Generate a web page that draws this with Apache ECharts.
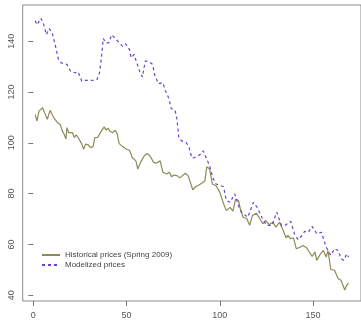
<!DOCTYPE html>
<html>
<head>
<meta charset="utf-8">
<script src="https://cdn.jsdelivr.net/npm/echarts@6/dist/echarts.min.js"></script>
<style>html,body{margin:0;padding:0;background:#fff}#c{width:361px;height:320px}</style>
</head>
<body>
<div id="c"></div>
<script>
var seriesNames = ["Historical prices (Spring 2009)", "Modelized prices"];
var xTicks = [0, 50, 100, 150];
var yTicks = [40, 60, 80, 100, 120, 140];

var histX = [1,2,3,5,6,7.5,9,10.5,11.5,13,14.5,15.5,16.5,17.5,18,19,20,21,22,23,24,25,26,27,28,29.5,30.5,32,33,34.5,35.5,36.5,38,39,40,41,42.5,44,45,46,47.5,48.5,50,51.5,52.5,53,54,55,56,57.5,59.5,61,62.5,64.5,66,68,69.5,71.5,73,74,75.5,77,78.5,81.5,83,85.5,87,89,90.5,92,93,94.5,96,98,100,102,103.5,105.5,107,108.5,110,111,112.5,114.5,116,117.5,119.5,121,123,124.5,126.5,128.5,130,132,134,135.5,136.5,138,139.5,141,143,144.5,146.5,148,149.5,151,152,154,155.5,157,158,159.5,161.5,163.5,165,167,168,169];
var histY = [111.1,108.6,112.5,113.8,111.9,109.3,112.8,110.6,109.3,108,107.1,104.7,103.4,101.5,106,104,103.4,104,102.1,103.1,102.1,101.8,99.5,97.5,99.5,99.2,98.2,98.4,102.1,102.1,101.8,104.7,106.3,105,105.8,104.7,104,105,103.4,99.7,98.8,99.2,97.5,97.1,95.3,94.2,94.9,92.9,89.7,92.3,94.9,95.8,94.9,92.3,92,92.9,88.4,87.7,88.4,86.7,87.3,87.1,86.2,88,87.1,81.5,82.7,83.5,84.2,85.1,90.6,89.7,83.8,83.1,80.5,76,73.3,74.6,73.1,77.9,77.3,74,70.7,70.1,67.5,71.4,72.3,70.7,68.1,69.4,67.8,68.7,66.8,68.7,65.5,62.6,63.5,62.2,62.6,58.3,58.9,59.6,58.7,57,55.3,57,53.7,56.3,57.6,55,57.6,50.1,49.8,46.5,45.9,42,43.9,44.8];

var modX = [1,2,4,5.5,7,8.5,10,11.5,13.5,15,18,20,22.5,24,26,27.5,30.5,34,35.5,36.5,37.5,39,40.5,42,43,44.5,46,48,49.5,51.5,52.5,54,55.5,57,58.5,60,61.5,64,65,67,69.5,70.5,72.5,74,76,77,77.5,78,79.5,82,83,83.5,84.5,85,86.5,88.5,90,91,93,94.5,96.5,98,102,103.5,105.5,108,110,111.5,115,118,120,122.5,125,128,130.5,133,135,138,140,142,144,145.5,147.5,149.5,152,154.5,155.5,157,159.5,161.5,163.5,165,166.5,168,169];
var modY = [148.1,146.5,149.1,146.8,142.6,145,143.6,139.3,132.8,131.5,130.9,128.2,127.6,128,124.3,124.6,124.6,124.7,127.6,133.5,141.1,139.4,139.4,142.6,142,140.7,139.4,138,139,136.8,133.5,134.8,131.5,128.2,125.9,132.2,132.2,130.9,127,123.3,123.7,121.1,117.8,113.5,112.8,109.3,106,102,100.8,100.1,100.8,98.2,95.3,94,94.2,94.9,95.8,96.9,93.6,91,85.8,83.8,82.7,77.3,76.6,79.9,75.3,72.7,70.7,76.6,74.6,70.7,67.5,67.5,72.7,67.5,67.5,69.1,64.2,61.8,63.5,65.1,64.8,67.1,64.2,64.8,64.8,58.9,55.7,58.3,57.6,54.4,53.7,56.3,55];

function pairs(xs, ys) { return xs.map(function (x, i) { return [x, ys[i]]; }); }

var chart = echarts.init(document.getElementById('c'), null, { renderer: 'canvas' });
var axisFont = { fontFamily: 'Liberation Sans, Arial, sans-serif', fontSize: 9, color: '#555' };
chart.setOption({
  animation: false,
  backgroundColor: '#fff',
  grid: { left: 22.7, top: 5, width: 338.7, height: 297, show: true, borderColor: '#8a8a8a', borderWidth: 1, backgroundColor: 'transparent' },
  legend: {
    orient: 'vertical', left: 36, top: 246, itemWidth: 18, itemHeight: 8, itemGap: 2,
    itemStyle: { opacity: 0 },
    textStyle: { fontFamily: 'Liberation Sans, Arial, sans-serif', fontSize: 8, color: '#444' },
    data: seriesNames
  },
  xAxis: {
    type: 'value', min: -5.7, max: 175.7,
    axisLine: { show: false },
    splitLine: { show: false },
    axisTick: { show: true, inside: false, length: 5, customValues: xTicks, lineStyle: { color: '#777' } },
    axisLabel: Object.assign({ margin: 10, customValues: xTicks, showMinLabel: true, showMaxLabel: true }, axisFont)
  },
  yAxis: {
    type: 'value', min: 37.7, max: 154.3,
    axisLine: { show: false },
    splitLine: { show: false },
    axisTick: { show: true, inside: false, length: 5, customValues: yTicks, lineStyle: { color: '#777' } },
    axisLabel: Object.assign({ margin: 7, rotate: 90, customValues: yTicks }, axisFont)
  },
  series: [
    { name: seriesNames[0], type: 'line', data: pairs(histX, histY), symbol: 'none', showSymbol: false, smooth: false,
      itemStyle: { color: '#8E8A55' }, lineStyle: { color: '#8E8A55', width: 1.2 } },
    { name: seriesNames[1], type: 'line', data: pairs(modX, modY), symbol: 'none', showSymbol: false, smooth: false,
      itemStyle: { color: '#6F3FD0' }, lineStyle: { color: '#6F3FD0', width: 1.2, type: [3, 3] } }
  ]
});
</script>
</body>
</html>
